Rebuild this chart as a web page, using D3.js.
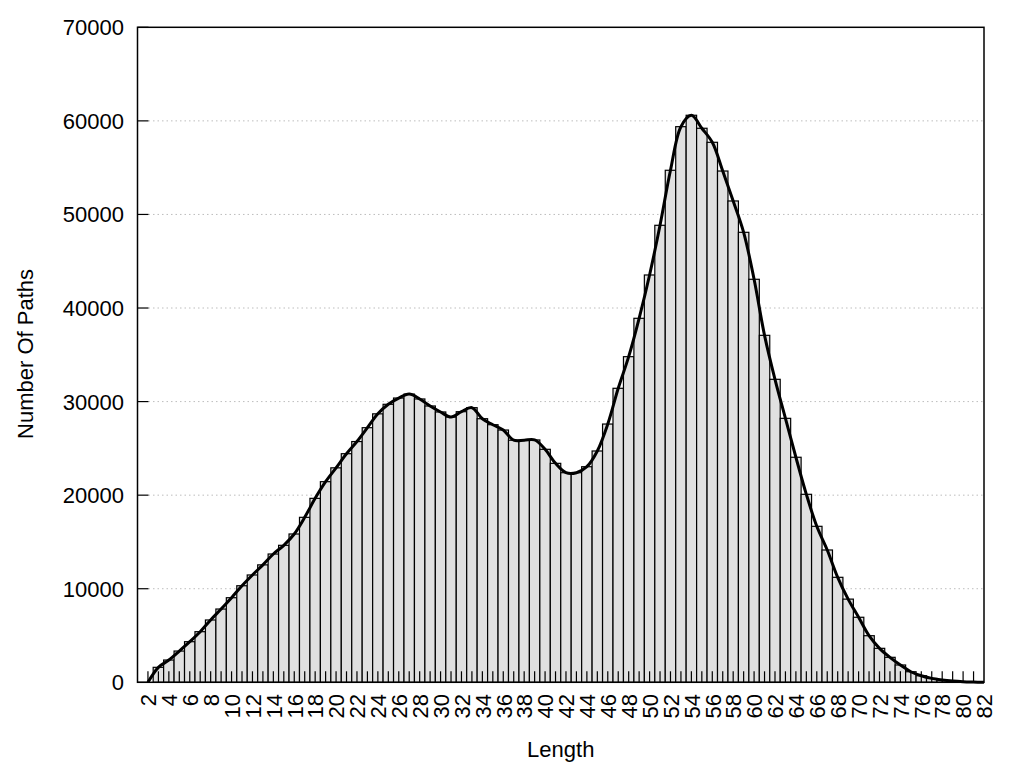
<!DOCTYPE html>
<html>
<head>
<meta charset="utf-8">
<script src="https://cdn.jsdelivr.net/npm/d3@7"></script>
<style>
  html, body { margin: 0; padding: 0; background: #fff; }
  svg { display: block; }
  text { font-family: "Liberation Sans", Arial, sans-serif; fill: #000; }
</style>
</head>
<body>
<svg id="chart" width="1024" height="768"></svg>
<script>
// ---- data ----
const lengths = d3.range(2, 83);
const counts = [
  0, 1600, 2380, 3340, 4340, 5410, 6660, 7830, 9040, 10320,
  11470, 12550, 13710, 14640, 15850, 17630, 19660, 21440, 22920, 24430,
  25730, 27210, 28690, 29710, 30380, 30800, 30280, 29530, 28890, 28350,
  28920, 29350, 28170, 27530, 26960, 25870, 25870, 25900, 24900, 23400,
  22400, 22400, 23040, 24720, 27600, 31420, 34800, 38900, 43530, 48840,
  54720, 59380, 60600, 59210, 57710, 54640, 51440, 48090, 43070, 37080,
  32380, 28210, 24050, 20090, 16670, 14140, 11220, 8890, 6950, 4980,
  3630, 2670, 1850, 1130, 700, 420, 250, 140, 70, 30,
  0
];
const xTickLabels = d3.range(2, 83, 2);
const yTickValues = [0, 10000, 20000, 30000, 40000, 50000, 60000, 70000];
const xTitle = "Length";
const yTitle = "Number Of Paths";

const data = lengths.map((l, i) => ({ x: l, y: counts[i] }));

// ---- layout ----
const L = 137.5, R = 984, T = 27.3, B = 682.3;
const svg = d3.select("#chart");
const x = d3.scaleLinear().domain([1, 82]).range([L, R]);
const y = d3.scaleLinear().domain([0, 70000]).range([B, T]);

// gridlines
svg.append("g").selectAll("line").data(yTickValues.filter(v => v > 0 && v < 70000)).join("line")
  .attr("x1", L + 11).attr("x2", R)
  .attr("y1", d => y(d)).attr("y2", d => y(d))
  .attr("stroke", "#bdbdbd").attr("stroke-width", 1).attr("stroke-dasharray", "1.5,3");

// bars
svg.append("g").selectAll("rect").data(data).join("rect")
  .attr("x", d => x(d.x - 0.5))
  .attr("width", x(1.5) - x(0.5))
  .attr("y", d => y(d.y))
  .attr("height", d => B - y(d.y))
  .attr("fill", "#e0e0e0")
  .attr("stroke", "#000")
  .attr("stroke-width", 1.2);

// smooth curve
svg.append("path").datum(data)
  .attr("d", d3.line().x(d => x(d.x)).y(d => y(d.y)).curve(d3.curveCatmullRom.alpha(0.5)))
  .attr("fill", "none").attr("stroke", "#000").attr("stroke-width", 3)
  .attr("stroke-linejoin", "round");

// x ticks (inward) at every integer
svg.append("g").selectAll("line").data(d3.range(2, 82)).join("line")
  .attr("x1", d => x(d)).attr("x2", d => x(d))
  .attr("y1", B).attr("y2", B - 11)
  .attr("stroke", "#000").attr("stroke-width", 1.2);

// y ticks (inward)
svg.append("g").selectAll("line").data(yTickValues).join("line")
  .attr("x1", L).attr("x2", L + 11)
  .attr("y1", d => y(d)).attr("y2", d => y(d))
  .attr("stroke", "#000").attr("stroke-width", 1.2);

// frame
svg.append("rect").attr("x", L).attr("y", T).attr("width", R - L).attr("height", B - T)
  .attr("fill", "none").attr("stroke", "#000").attr("stroke-width", 1.5);

// y tick labels
svg.append("g").selectAll("text").data(yTickValues).join("text")
  .attr("x", 124).attr("y", d => y(d)).attr("dy", "0.36em")
  .attr("text-anchor", "end").attr("font-size", 22)
  .text(d => d);

// x tick labels (rotated)
svg.append("g").selectAll("text").data(xTickLabels).join("text")
  .attr("transform", d => `translate(${x(d) + 8.3},${694}) rotate(-90)`)
  .attr("text-anchor", "end").attr("font-size", 22)
  .text(d => d);

// titles
svg.append("text").attr("x", (L + R) / 2).attr("y", 757)
  .attr("text-anchor", "middle").attr("font-size", 22).text(xTitle);
svg.append("text").attr("transform", `translate(33,354) rotate(-90)`)
  .attr("text-anchor", "middle").attr("font-size", 22).text(yTitle);
</script>
</body>
</html>
